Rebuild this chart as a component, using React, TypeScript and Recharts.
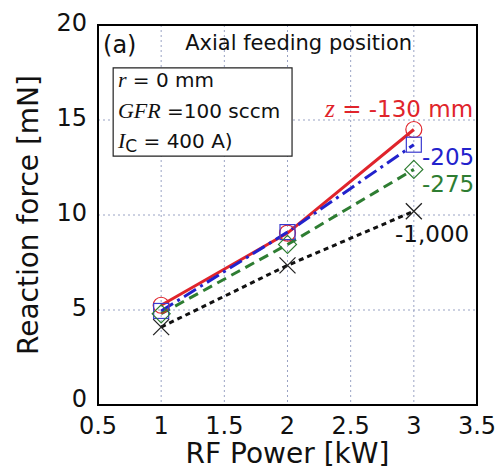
import React from "react";
import {
  LineChart,
  Line,
  XAxis,
  YAxis,
  CartesianGrid,
  ReferenceArea,
  ReferenceDot,
} from "recharts";

const powers = [1, 2, 3];
const z130 = [5.25, 9.05, 14.5];
const z205 = [4.95, 9.1, 13.7];
const z275 = [4.8, 8.45, 12.4];
const z1000 = [4.1, 7.35, 10.2];
const xTicks = [0.5, 1, 1.5, 2, 2.5, 3, 3.5];
const yTicks = [0, 5, 10, 15, 20];

const data = powers.map((p, i) => ({
  p,
  a: z130[i],
  b: z205[i],
  c: z275[i],
  d: z1000[i],
}));

const RED = "#e0242b";
const BLUE = "#2222cc";
const GREEN = "#2e7d32";
const BLACK = "#111";
const SANS = "DejaVu Sans";
const SERIF = "Liberation Serif";

type Part = { t: string; it?: boolean; sub?: boolean };

const Anno = (props: any) => {
  const { viewBox, parts, size, fill } = props;
  const x = viewBox.x + viewBox.width / 2;
  const y = viewBox.y + viewBox.height / 2;
  return (
    <text x={x} y={y} fontSize={size} fill={fill} fontFamily={SANS}>
      {(parts as Part[]).map((pt, i) => (
        <tspan
          key={i}
          fontFamily={pt.it ? SERIF : SANS}
          fontStyle={pt.it ? "italic" : "normal"}
          fontSize={pt.sub ? size * 0.85 : pt.it ? size * 1.1 : size}
          dy={pt.sub ? 4 : i > 0 && parts[i - 1].sub ? -4 : 0}
        >
          {pt.t}
        </tspan>
      ))}
    </text>
  );
};

const makeDot = (kind: string, color: string) => (p: any) => {
  const { cx, cy, index } = p;
  const k = `${kind}-${index}`;
  if (kind === "circle")
    return <circle key={k} cx={cx} cy={cy} r={8} fill="none" stroke={color} strokeWidth={1.2} />;
  if (kind === "square")
    return <rect key={k} x={cx - 7.5} y={cy - 7.5} width={15} height={15} fill="none" stroke={color} strokeWidth={1.2} />;
  if (kind === "diamond")
    return (
      <path key={k} d={`M${cx},${cy - 9}L${cx + 9},${cy}L${cx},${cy + 9}L${cx - 9},${cy}Z`} fill="none" stroke={color} strokeWidth={1.2} />
    );
  return (
    <path key={k} d={`M${cx - 8},${cy - 8}L${cx + 8},${cy + 8}M${cx - 8},${cy + 8}L${cx + 8},${cy - 8}`} fill="none" stroke={color} strokeWidth={1.3} />
  );
};

const YTick = (props: any) => {
  const { x, y, payload } = props;
  const dy = payload.value === 0 ? -6 : -2;
  return (
    <text x={x} y={y + dy} textAnchor="end" dominantBaseline="central" fontSize={24} fontFamily={SANS} fill={BLACK}>
      {payload.value}
    </text>
  );
};

const XTick = (props: any) => {
  const { x, y, payload } = props;
  return (
    <text x={x} y={y + 16} textAnchor="middle" fontSize={24} fontFamily={SANS} fill={BLACK}>
      {payload.value}
    </text>
  );
};

const XTitle = (props: any) => {
  const { viewBox } = props;
  return (
    <text x={viewBox.x + viewBox.width / 2} y={viewBox.y + 58} textAnchor="middle" fontSize={28} fontFamily={SANS} fill={BLACK}>
      RF Power [kW]
    </text>
  );
};

const YTitle = (props: any) => {
  const { viewBox } = props;
  const cx = 38;
  const cy = viewBox.y + viewBox.height / 2;
  return (
    <text x={cx} y={cy} transform={`rotate(-90 ${cx} ${cy})`} textAnchor="middle" fontSize={28} fontFamily={SANS} fill={BLACK}>
      Reaction force [mN]
    </text>
  );
};

const annos: { x: number; y: number; parts: Part[]; size: number; fill: string }[] = [
  { x: 0.54, y: 18.53, parts: [{ t: "(a)" }], size: 24, fill: BLACK },
  { x: 1.19, y: 18.68, parts: [{ t: "Axial feeding position" }], size: 21, fill: BLACK },
  { x: 0.658, y: 16.74, parts: [{ t: "r", it: true }, { t: " = 0 mm" }], size: 20, fill: BLACK },
  { x: 0.658, y: 15.1, parts: [{ t: "GFR", it: true }, { t: " =100 sccm" }], size: 20, fill: BLACK },
  { x: 0.658, y: 13.53, parts: [{ t: "I", it: true }, { t: "C", sub: true }, { t: " = 400 A)" }], size: 20, fill: BLACK },
  { x: 2.297, y: 15.16, parts: [{ t: "z", it: true }, { t: " = -130 mm" }], size: 23, fill: RED },
  { x: 3.065, y: 12.63, parts: [{ t: "-205" }], size: 23, fill: BLUE },
  { x: 3.065, y: 11.21, parts: [{ t: "-275" }], size: 23, fill: GREEN },
  { x: 2.851, y: 8.58, parts: [{ t: "-1,000" }], size: 23, fill: BLACK },
];

export default function App() {
  return (
    <div style={{ position: "absolute", left: 0, top: 0, width: 503, height: 472, background: "#fff" }}>
      <LineChart width={503} height={472} data={data} margin={{ top: 25, right: 26, left: 0, bottom: 0 }}>
        <CartesianGrid stroke="#9aa3c4" strokeDasharray="2 3" strokeWidth={1} />
        <XAxis
          dataKey="p"
          type="number"
          domain={[0.5, 3.5]}
          ticks={xTicks}
          height={67}
          axisLine={false}
          tickLine={false}
          tickSize={0}
          tickMargin={13}
          tick={<XTick />}
          interval={0}
          label={<XTitle />}
        />
        <YAxis
          type="number"
          domain={[0, 20]}
          ticks={yTicks}
          width={98}
          axisLine={false}
          tickLine={false}
          tickSize={0}
          tickMargin={11}
          tick={<YTick />}
          interval={0}
          label={<YTitle />}
        />
        <ReferenceArea x1={0.62} x2={2.036} y1={13.1} y2={17.74} fill="#fff" fillOpacity={1} stroke="#222" strokeWidth={1.2} />
        <ReferenceArea x1={0.5} x2={3.5} y1={0} y2={20} fill="none" fillOpacity={0} stroke="#000" strokeWidth={2} />
        <Line dataKey="a" stroke={RED} strokeWidth={3} dot={makeDot("circle", RED)} isAnimationActive={false} />
        <Line dataKey="b" stroke={BLUE} strokeWidth={3} strokeDasharray="14 5 3 5" dot={makeDot("square", "#3a3ad0")} isAnimationActive={false} />
        <Line dataKey="c" stroke={GREEN} strokeWidth={3} strokeDasharray="10 6" dot={makeDot("diamond", GREEN)} isAnimationActive={false} />
        <Line dataKey="d" stroke={BLACK} strokeWidth={3} strokeDasharray="5 4" dot={makeDot("x", "#222")} isAnimationActive={false} />
        {annos.map((a, i) => (
          <ReferenceDot
            key={i}
            x={a.x}
            y={a.y}
            r={1}
            fill="none"
            stroke="none"
            ifOverflow="visible"
            label={<Anno parts={a.parts} size={a.size} fill={a.fill} />}
          />
        ))}
      </LineChart>
    </div>
  );
}
